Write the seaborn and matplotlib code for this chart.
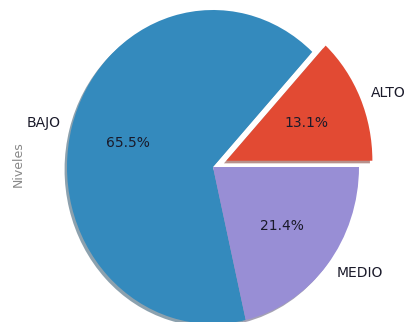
import matplotlib
matplotlib.use('Agg')
import matplotlib.pyplot as plt
import seaborn as sns

# Data
niveles = ['ALTO', 'BAJO', 'MEDIO']
porcentajes = [13.1, 65.5, 21.4]
explode = [0.1, 0, 0]
colores = ['#E24A33', '#348ABD', '#988ED5']

sns.set_style('white')
plt.rcParams['font.family'] = ['DejaVu Sans']

fig = plt.figure(figsize=(4.09, 3.22), dpi=100)
ax = fig.add_axes([0, 0, 1, 1])

ax.pie(porcentajes, labels=niveles, explode=explode, colors=colores,
       autopct='%1.1f%%', startangle=0, labeldistance=1.08,
       shadow={'ox': -0.012, 'oy': -0.012, 'shade': 0.5},
       wedgeprops={'linewidth': 0},
       textprops={'fontsize': 10, 'color': '#1a1a2a'})

# stretch like the original (non-equal aspect)
ax.set_aspect('auto')
ax.set_xlim(-213 / 146, (409 - 213) / 146)
ax.set_ylim(-155 / 157, 167 / 157)

ax.set_xticks([])
ax.set_yticks([])
for s in ax.spines.values():
    s.set_visible(False)
ax.set_ylabel('Niveles', color='#888888', fontsize=9)
ax.yaxis.set_label_coords(0.06, 0.49)

fig.savefig('out.png', dpi=100)
